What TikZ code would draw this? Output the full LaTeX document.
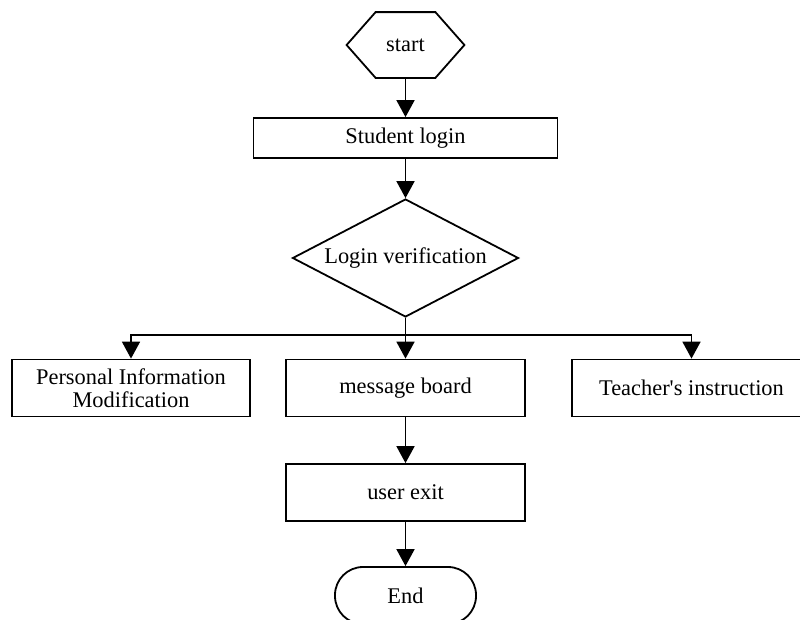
\documentclass[tikz,border=0pt]{standalone}
\usepackage{fontspec}
\setmainfont{Liberation Serif}
\usetikzlibrary{arrows.meta,calc,positioning,shapes.geometric}

\begin{document}
\begin{tikzpicture}[
          x=1pt, y=-1pt,
          line width=1.8pt,
          font=\fontsize{22.4}{23}\selectfont,
          arr/.style={-{Triangle[length=17pt,width=18pt]}},
          box/.style={draw, minimum width=239pt, minimum height=57pt, inner sep=0pt, align=center},
          decide/.style={draw, diamond, aspect=1.9, minimum width=226pt, minimum height=118pt, inner sep=0pt},
          term/.style={draw, rounded corners=28pt, minimum width=141pt, minimum height=57pt, inner sep=0pt}
      ]
        \clip (0,0) rectangle (800,619);
        \node[minimum width=116pt, minimum height=64pt, inner sep=0pt] (start) at (405.5,45) {start};
        \draw (start.west) -- ($(start.north west)+(29,0)$) -- ($(start.north east)+(-29,0)$)
              -- (start.east) -- ($(start.south east)+(-29,0)$) -- ($(start.south west)+(29,0)$) -- cycle;
        \node[box, minimum width=304pt, minimum height=40pt] (login) at (405.5,138) {Student login};
        \node[decide] (verify) at (405.5,258) {Login verification};
        \coordinate (bus) at (405.5,335);
        \node[box, minimum width=238pt] (personal) at (131,388) {Personal Information\\Modification};
        \node[box] (board) at (405.5,388) {message board};
        \node[box] (teacher) at (691.5,388) {Teacher\textquotesingle s instruction};
        \node[box] (exit) at (405.5,492.5) {user exit};
        \node[term] (end) at (405.5,595.5) {End};
        \draw[arr] (start.south) -- (login.north);
        \draw[arr] (login.south) -- (verify.north);
        \draw (verify.south) -- (bus);
        \draw[arr] (bus) -| (personal.north);
        \draw[arr] (bus) -| (teacher.north);
        \draw[arr] (bus) -- (board.north);
        \draw[arr] (board.south) -- (exit.north);
        \draw[arr] (exit.south) -- (end.north);
      \end{tikzpicture}
\end{document}
